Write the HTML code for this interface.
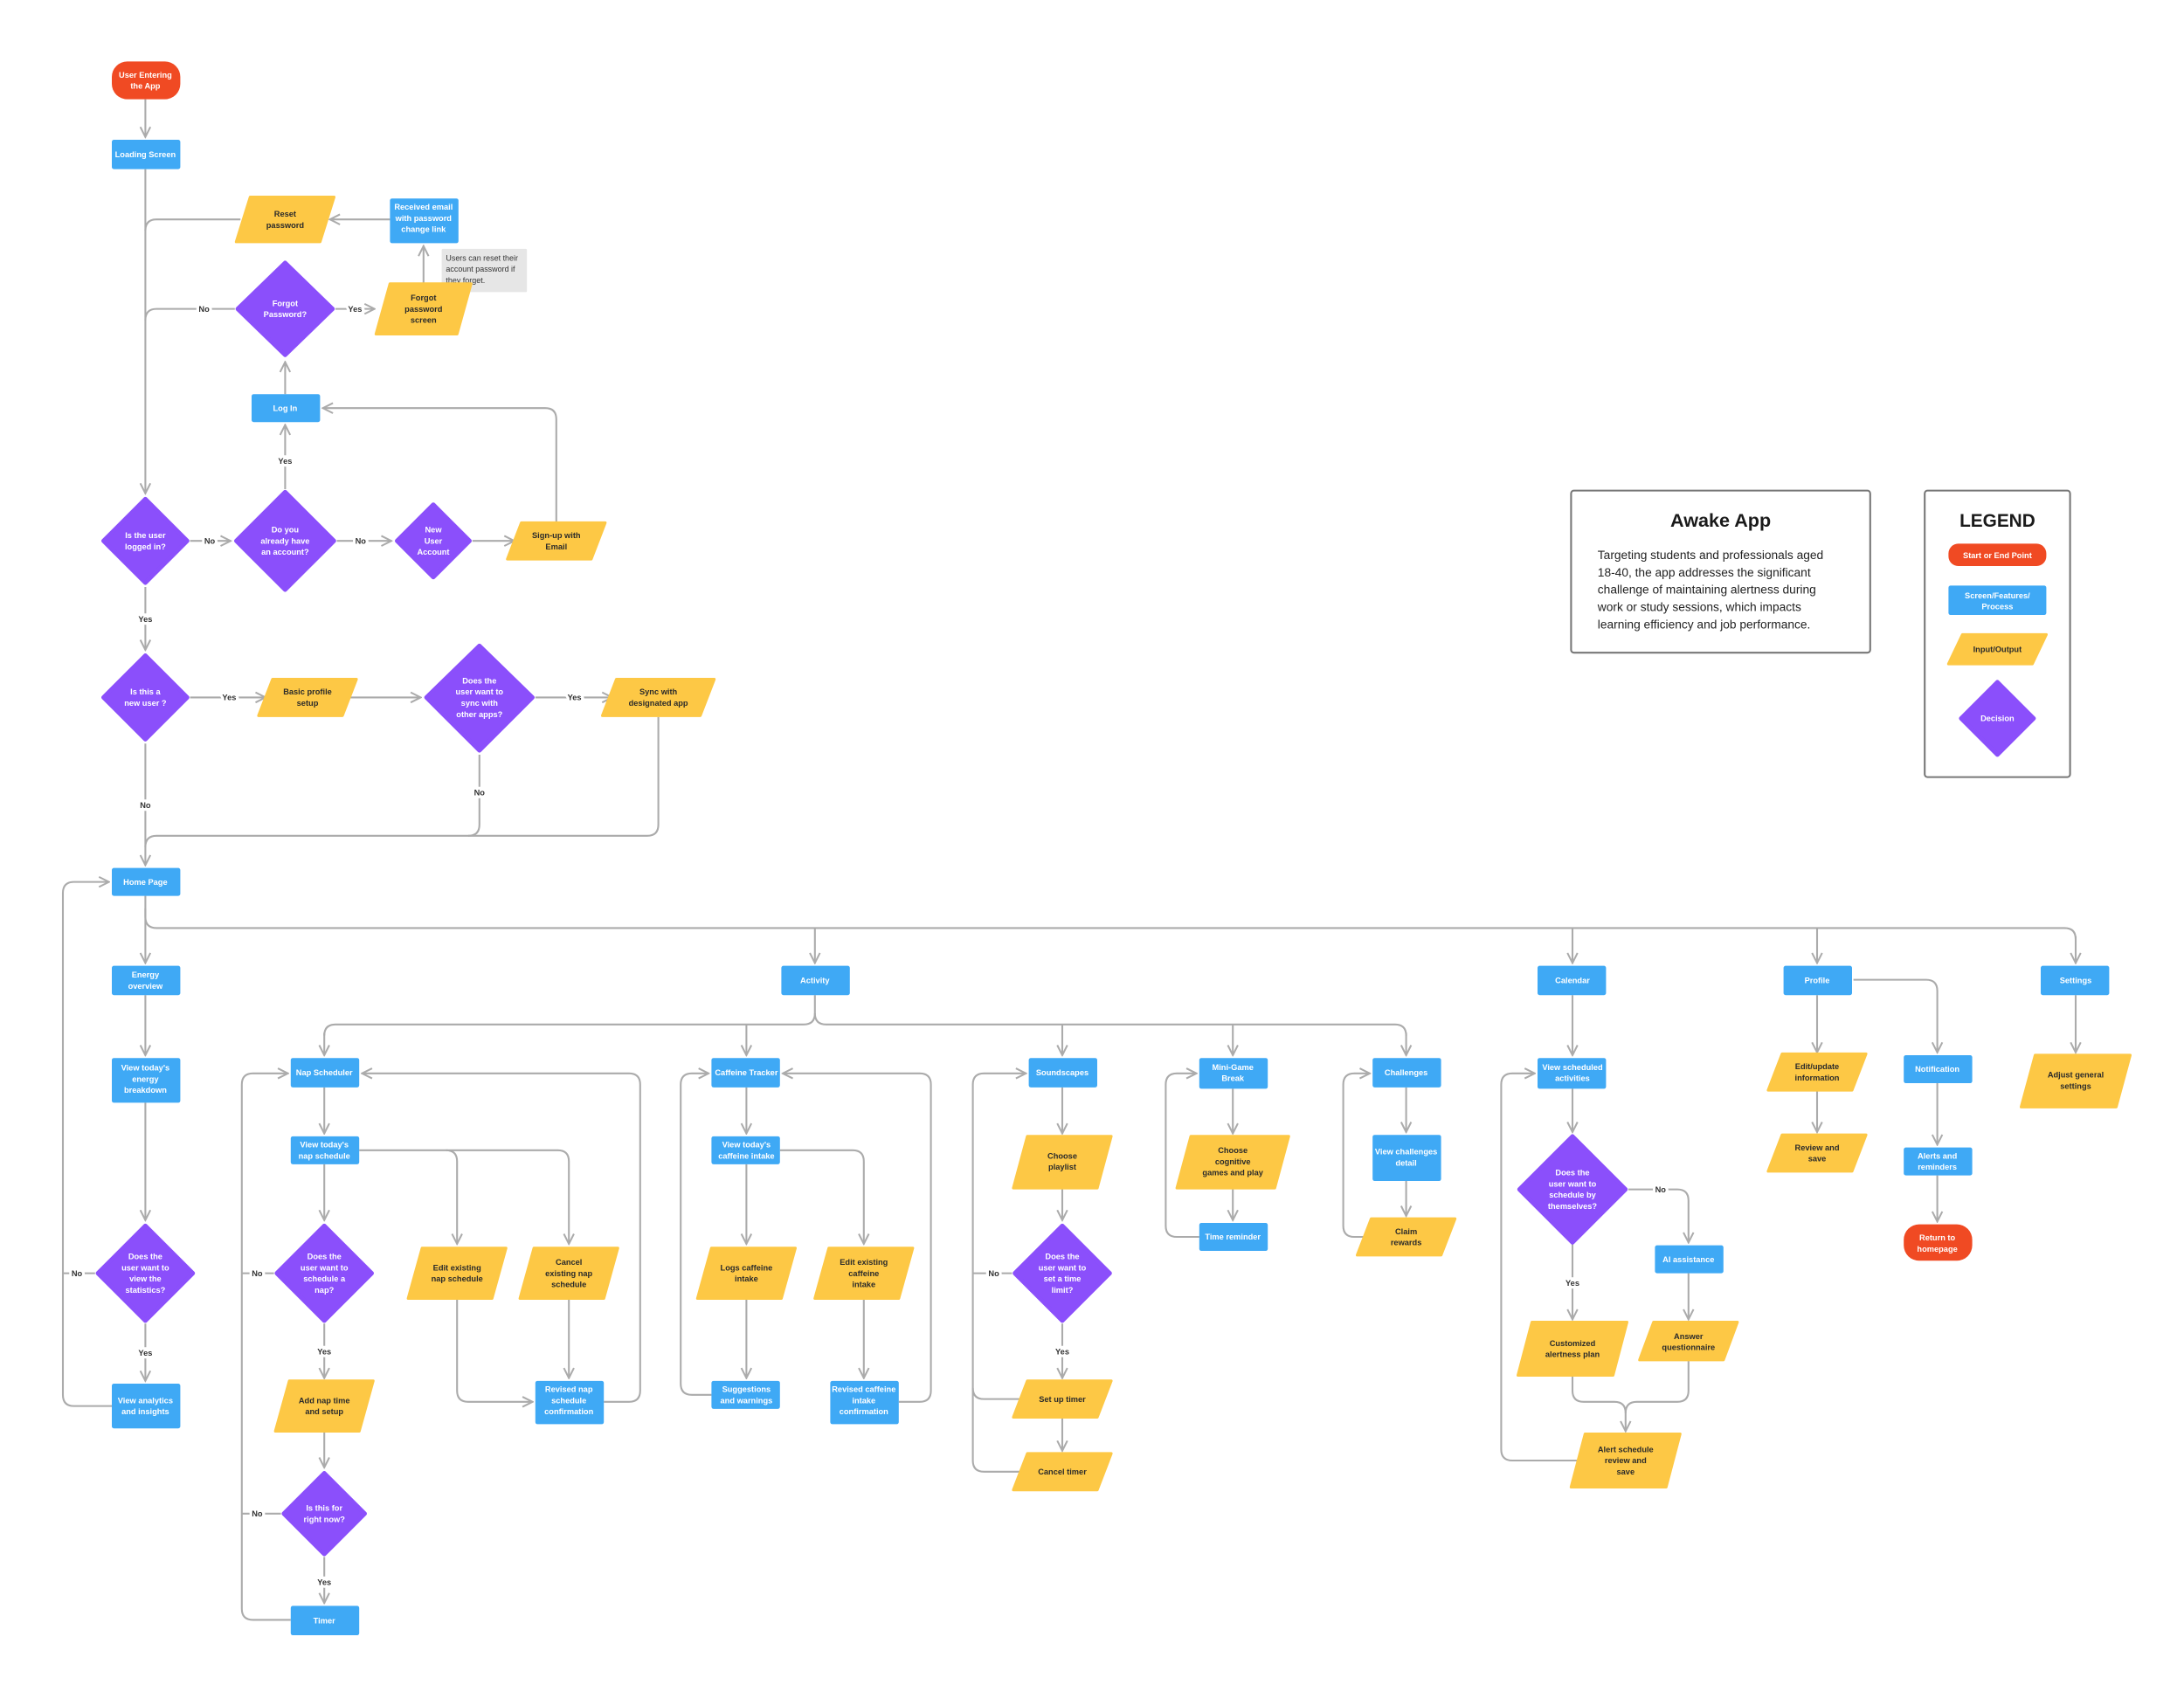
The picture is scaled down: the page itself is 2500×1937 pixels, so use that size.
<!DOCTYPE html>
<html><head><meta charset="utf-8"><style>
html,body{margin:0;padding:0;background:#fff}
svg{display:block}
text{font-family:"Liberation Sans",Arial,sans-serif;font-weight:bold;font-size:5.8px;text-anchor:middle}
.w{fill:#fff}.d{fill:#2a2a2a}
.l{fill:none;stroke:#ABABAB;stroke-width:1.3;stroke-linejoin:round}
.a{marker-end:url(#ar)}
.b{fill:#3FA9F5}.y{fill:#FDC845;stroke:#FDC845;stroke-width:2;stroke-linejoin:round}
.p{fill:#8B4FFB;stroke:#8B4FFB;stroke-width:3;stroke-linejoin:round}
.r{fill:#F04A23}
.lb{fill:#333;paint-order:stroke;stroke:#fff;stroke-width:4px}
</style></head><body>
<svg width="2500" height="1937" viewBox="0 0 1562.5 1210.6" xmlns="http://www.w3.org/2000/svg">
<defs><marker id="ar" viewBox="0 0 10 10" refX="9" refY="5" markerWidth="9" markerHeight="9" markerUnits="userSpaceOnUse" orient="auto"><path d="M1,1 L9,5 L1,9" fill="none" stroke="#ABABAB" stroke-width="1.4"/></marker></defs>

<!-- connectors -->
<g class="l">
<path class="a" d="M104,71 V98"/>
<path class="a" d="M104,121 V353"/>
<path d="M172,157 H112 Q104,157 104,165"/>
<path class="a" d="M279,157 H236"/>
<path class="a" d="M303,203 V176"/>
<path class="a" d="M240,221 H268"/>
<path d="M168,221 H112 Q104,221 104,229"/>
<path class="a" d="M204,282 V259"/>
<path class="a" d="M204,350 V304"/>
<path class="a" d="M136,387 H165"/>
<path class="a" d="M241,387 H280"/>
<path class="a" d="M338,387 H368"/>
<path class="a" d="M398,374 V300 Q398,292 390,292 H231"/>
<path class="a" d="M104,420 V465"/>
<path class="a" d="M136,499 H190"/>
<path class="a" d="M250,499 H301"/>
<path class="a" d="M383,499 H438"/>
<path class="a" d="M104,532 V619"/>
<path d="M343,540 V590 Q343,598 335,598"/>
<path d="M471,513 V590 Q471,598 463,598 H112 Q104,598 104,606"/>
<path class="a" d="M104,641 V689"/>
<path d="M104,650 V656 Q104,664 112,664 H1477 Q1485,664 1485,672"/>
<path class="a" d="M1485,670 V689"/>
<path class="a" d="M583,664 V689"/>
<path class="a" d="M1125,664 V689"/>
<path class="a" d="M1300,664 V689"/>
<path class="a" d="M104,712 V755"/>
<path class="a" d="M104,789 V873"/>
<path class="a" d="M104,947 V988"/>
<path d="M68,911 H45"/>
<path class="a" d="M80,1006 H53 Q45,1006 45,998 V639 Q45,631 53,631 H78"/>
<path d="M583,712 V725 Q583,733 575,733 H240 Q232,733 232,741"/>
<path class="a" d="M232,739 V755"/>
<path d="M583,725 Q583,733 591,733 H998 Q1006,733 1006,741"/>
<path class="a" d="M1006,739 V755"/>
<path class="a" d="M534,733 V755"/>
<path class="a" d="M760,733 V755"/>
<path class="a" d="M882,733 V755"/>
<path class="a" d="M232,778 V811"/>
<path class="a" d="M232,833 V873"/>
<path class="a" d="M257,823 H319 Q327,823 327,831 V890"/>
<path class="a" d="M319,823 H399 Q407,823 407,831 V890"/>
<path class="a" d="M232,947 V986"/>
<path d="M196,911 H173"/>
<path class="a" d="M327,929 V995 Q327,1003 335,1003 H381"/>
<path class="a" d="M407,929 V986"/>
<path class="a" d="M432,1003 H450 Q458,1003 458,995 V776 Q458,768 450,768 H259"/>
<path class="a" d="M232,1024 V1050"/>
<path class="a" d="M232,1114 V1147"/>
<path d="M201,1083 H173"/>
<path class="a" d="M208,1159 H181 Q173,1159 173,1151 V776 Q173,768 181,768 H206"/>
<path class="a" d="M534,778 V811"/>
<path class="a" d="M534,833 V890"/>
<path class="a" d="M558,823 H610 Q618,823 618,831 V890"/>
<path class="a" d="M534,929 V986"/>
<path class="a" d="M618,929 V986"/>
<path class="a" d="M509,998 H495 Q487,998 487,990 V776 Q487,768 495,768 H507"/>
<path class="a" d="M643,1003 H658 Q666,1003 666,995 V776 Q666,768 658,768 H560"/>
<path class="a" d="M760,778 V811"/>
<path class="a" d="M760,850 V873"/>
<path class="a" d="M760,947 V986"/>
<path class="a" d="M760,1014 V1038"/>
<path d="M724,911 H696"/>
<path d="M738,1001 H704 Q696,1001 696,993"/>
<path class="a" d="M738,1053 H704 Q696,1053 696,1045 V776 Q696,768 704,768 H734"/>
<path class="a" d="M882,779 V811"/>
<path class="a" d="M882,850 V873"/>
<path class="a" d="M858,885 H842 Q834,885 834,877 V776 Q834,768 842,768 H856"/>
<path class="a" d="M1006,778 V810"/>
<path class="a" d="M1006,845 V870"/>
<path class="a" d="M978,885 H969 Q961,885 961,877 V776 Q961,768 969,768 H980"/>
<path class="a" d="M1125,712 V755"/>
<path class="a" d="M1125,779 V810"/>
<path class="a" d="M1165,851 H1200 Q1208,851 1208,859 V889"/>
<path class="a" d="M1125,890 V944"/>
<path class="a" d="M1208,911 V944"/>
<path class="a" d="M1125,984 V995 Q1125,1003 1133,1003 H1155 Q1163,1003 1163,1011 V1024"/>
<path d="M1208,973 V995 Q1208,1003 1200,1003 H1171 Q1163,1003 1163,1011"/>
<path class="a" d="M1132,1045 H1082 Q1074,1045 1074,1037 V776 Q1074,768 1082,768 H1098"/>
<path class="a" d="M1300,712 V753"/>
<path class="a" d="M1300,780 V810"/>
<path class="a" d="M1326,701 H1378 Q1386,701 1386,709 V753"/>
<path class="a" d="M1386,775 V819"/>
<path class="a" d="M1386,841 V874"/>
<path class="a" d="M1485,712 V753"/>
</g>

<!-- connector labels -->
<g>
<text class="lb" x="146" y="223">No</text>
<text class="lb" x="254" y="223">Yes</text>
<text class="lb" x="204" y="332">Yes</text>
<text class="lb" x="150" y="389">No</text>
<text class="lb" x="258" y="389">No</text>
<text class="lb" x="104" y="445">Yes</text>
<text class="lb" x="164" y="501">Yes</text>
<text class="lb" x="411" y="501">Yes</text>
<text class="lb" x="104" y="578">No</text>
<text class="lb" x="343" y="569">No</text>
<text class="lb" x="55" y="913">No</text>
<text class="lb" x="104" y="970">Yes</text>
<text class="lb" x="184" y="913">No</text>
<text class="lb" x="232" y="969">Yes</text>
<text class="lb" x="184" y="1085">No</text>
<text class="lb" x="232" y="1134">Yes</text>
<text class="lb" x="711" y="913">No</text>
<text class="lb" x="760" y="969">Yes</text>
<text class="lb" x="1188" y="853">No</text>
<text class="lb" x="1125" y="920">Yes</text>
</g>

<!-- red -->
<rect class="r" x="80" y="44" width="49" height="27" rx="11"/>
<text class="w" x="104" y="55.5">User Entering<tspan x="104" dy="8">the App</tspan></text>
<rect class="r" x="1362" y="876" width="49" height="26" rx="11"/>
<text class="w" x="1386" y="887.5">Return to<tspan x="1386" dy="8">homepage</tspan></text>

<!-- blue boxes -->
<rect class="b" x="80" y="100" width="49" height="21" rx="1.5"/><text class="w" x="104" y="112.5">Loading Screen</text>
<rect class="b" x="279" y="142" width="49" height="32" rx="1.5"/><text class="w" x="303" y="150">Received email<tspan x="303" dy="8">with password</tspan><tspan x="303" dy="8">change link</tspan></text>
<rect class="b" x="180" y="282" width="49" height="20" rx="1.5"/><text class="w" x="204" y="294">Log In</text>
<rect class="b" x="80" y="621" width="49" height="20" rx="1.5"/><text class="w" x="104" y="633">Home Page</text>
<rect class="b" x="80" y="691" width="49" height="21" rx="1.5"/><text class="w" x="104" y="699.5">Energy<tspan x="104" dy="8">overview</tspan></text>
<rect class="b" x="80" y="757" width="49" height="32" rx="1.5"/><text class="w" x="104" y="766">View today's<tspan x="104" dy="8">energy</tspan><tspan x="104" dy="8">breakdown</tspan></text>
<rect class="b" x="80" y="990" width="49" height="32" rx="1.5"/><text class="w" x="104" y="1004">View analytics<tspan x="104" dy="8">and insights</tspan></text>
<rect class="b" x="559" y="691" width="49" height="21" rx="1.5"/><text class="w" x="583" y="703.5">Activity</text>
<rect class="b" x="1100" y="691" width="49" height="21" rx="1.5"/><text class="w" x="1125" y="703.5">Calendar</text>
<rect class="b" x="1276" y="691" width="49" height="21" rx="1.5"/><text class="w" x="1300" y="703.5">Profile</text>
<rect class="b" x="1460" y="691" width="49" height="21" rx="1.5"/><text class="w" x="1485" y="703.5">Settings</text>
<rect class="b" x="208" y="757" width="49" height="21" rx="1.5"/><text class="w" x="232" y="769.5">Nap Scheduler</text>
<rect class="b" x="208" y="813" width="49" height="20" rx="1.5"/><text class="w" x="232" y="821">View today's<tspan x="232" dy="8">nap schedule</tspan></text>
<rect class="b" x="383" y="988" width="49" height="31" rx="1.5"/><text class="w" x="407" y="996">Revised nap<tspan x="407" dy="8">schedule</tspan><tspan x="407" dy="8">confirmation</tspan></text>
<rect class="b" x="208" y="1149" width="49" height="21" rx="1.5"/><text class="w" x="232" y="1161.5">Timer</text>
<rect class="b" x="509" y="757" width="49" height="21" rx="1.5"/><text class="w" x="534" y="769.5">Caffeine Tracker</text>
<rect class="b" x="509" y="813" width="49" height="20" rx="1.5"/><text class="w" x="534" y="821">View today's<tspan x="534" dy="8">caffeine intake</tspan></text>
<rect class="b" x="509" y="988" width="49" height="20" rx="1.5"/><text class="w" x="534" y="996">Suggestions<tspan x="534" dy="8">and warnings</tspan></text>
<rect class="b" x="594" y="988" width="49" height="31" rx="1.5"/><text class="w" x="618" y="996">Revised caffeine<tspan x="618" dy="8">intake</tspan><tspan x="618" dy="8">confirmation</tspan></text>
<rect class="b" x="736" y="757" width="49" height="21" rx="1.5"/><text class="w" x="760" y="769.5">Soundscapes</text>
<rect class="b" x="858" y="757" width="49" height="22" rx="1.5"/><text class="w" x="882" y="765.5">Mini-Game<tspan x="882" dy="8">Break</tspan></text>
<rect class="b" x="858" y="875" width="49" height="20" rx="1.5"/><text class="w" x="882" y="887">Time reminder</text>
<rect class="b" x="982" y="757" width="49" height="21" rx="1.5"/><text class="w" x="1006" y="769.5">Challenges</text>
<rect class="b" x="982" y="812" width="49" height="33" rx="1.5"/><text class="w" x="1006" y="826">View challenges<tspan x="1006" dy="8">detail</tspan></text>
<rect class="b" x="1100" y="757" width="49" height="22" rx="1.5"/><text class="w" x="1125" y="765.5">View scheduled<tspan x="1125" dy="8">activities</tspan></text>
<rect class="b" x="1184" y="891" width="49" height="20" rx="1.5"/><text class="w" x="1208" y="903">AI assistance</text>
<rect class="b" x="1362" y="755" width="49" height="20" rx="1.5"/><text class="w" x="1386" y="767">Notification</text>
<rect class="b" x="1362" y="821" width="49" height="20" rx="1.5"/><text class="w" x="1386" y="829">Alerts and<tspan x="1386" dy="8">reminders</tspan></text>

<!-- note -->
<rect x="316" y="178" width="61" height="31" fill="#E6E6E6" rx="1"/>
<text x="319" y="186.5" style="text-anchor:start;font-weight:normal;font-size:5.6px" fill="#333">Users can reset their<tspan x="319" dy="8">account password if</tspan><tspan x="319" dy="8">they forget.</tspan></text>

<!-- yellow -->
<polygon class="y" points="179,141 239,141 229,173 169,173"/><text class="d" x="204" y="155">Reset<tspan x="204" dy="8">password</tspan></text>
<polygon class="y" points="279,203 337,203 327,239 269,239"/><text class="d" x="303" y="215">Forgot<tspan x="303" dy="8">password</tspan><tspan x="303" dy="8">screen</tspan></text>
<polygon class="y" points="373,374 433,374 423,400 363,400"/><text class="d" x="398" y="385">Sign-up with<tspan x="398" dy="8">Email</tspan></text>
<polygon class="y" points="195,486 255,486 245,512 185,512"/><text class="d" x="220" y="497">Basic profile<tspan x="220" dy="8">setup</tspan></text>
<polygon class="y" points="441,486 511,486 501,512 431,512"/><text class="d" x="471" y="497">Sync with<tspan x="471" dy="8">designated app</tspan></text>
<polygon class="y" points="302,893 362,893 352,929 292,929"/><text class="d" x="327" y="909">Edit existing<tspan x="327" dy="8">nap schedule</tspan></text>
<polygon class="y" points="382,893 442,893 432,929 372,929"/><text class="d" x="407" y="905">Cancel<tspan x="407" dy="8">existing nap</tspan><tspan x="407" dy="8">schedule</tspan></text>
<polygon class="y" points="207,988 267,988 257,1024 197,1024"/><text class="d" x="232" y="1004">Add nap time<tspan x="232" dy="8">and setup</tspan></text>
<polygon class="y" points="509,893 569,893 559,929 499,929"/><text class="d" x="534" y="909">Logs caffeine<tspan x="534" dy="8">intake</tspan></text>
<polygon class="y" points="593,893 653,893 643,929 583,929"/><text class="d" x="618" y="905">Edit existing<tspan x="618" dy="8">caffeine</tspan><tspan x="618" dy="8">intake</tspan></text>
<polygon class="y" points="735,813 795,813 785,850 725,850"/><text class="d" x="760" y="829">Choose<tspan x="760" dy="8">playlist</tspan></text>
<polygon class="y" points="735,988 795,988 785,1014 725,1014"/><text class="d" x="760" y="1003">Set up timer</text>
<polygon class="y" points="735,1040 795,1040 785,1066 725,1066"/><text class="d" x="760" y="1055">Cancel timer</text>
<polygon class="y" points="852,813 922,813 912,850 842,850"/><text class="d" x="882" y="825">Choose<tspan x="882" dy="8">cognitive</tspan><tspan x="882" dy="8">games and play</tspan></text>
<polygon class="y" points="981,872 1041,872 1031,898 971,898"/><text class="d" x="1006" y="883">Claim<tspan x="1006" dy="8">rewards</tspan></text>
<polygon class="y" points="1096,946 1164,946 1154,984 1086,984"/><text class="d" x="1125" y="963">Customized<tspan x="1125" dy="8">alertness plan</tspan></text>
<polygon class="y" points="1183,946 1243,946 1233,973 1173,973"/><text class="d" x="1208" y="958">Answer<tspan x="1208" dy="8">questionnaire</tspan></text>
<polygon class="y" points="1134,1026 1202,1026 1192,1064 1124,1064"/><text class="d" x="1163" y="1039">Alert schedule<tspan x="1163" dy="8">review and</tspan><tspan x="1163" dy="8">save</tspan></text>
<polygon class="y" points="1275,754 1335,754 1325,780 1265,780"/><text class="d" x="1300" y="765">Edit/update<tspan x="1300" dy="8">information</tspan></text>
<polygon class="y" points="1275,812 1335,812 1325,838 1265,838"/><text class="d" x="1300" y="823">Review and<tspan x="1300" dy="8">save</tspan></text>
<polygon class="y" points="1456,755 1524,755 1514,792 1446,792"/><text class="d" x="1485" y="771">Adjust general<tspan x="1485" dy="8">settings</tspan></text>

<!-- diamonds -->
<polygon class="p" points="204,188 238,221 204,254 170,221"/><text class="w" x="204" y="219">Forgot<tspan x="204" dy="8">Password?</tspan></text>
<polygon class="p" points="104,357 134,387 104,417 74,387"/><text class="w" x="104" y="385">Is the user<tspan x="104" dy="8">logged in?</tspan></text>
<polygon class="p" points="204,352 239,387 204,422 169,387"/><text class="w" x="204" y="381">Do you<tspan x="204" dy="8">already have</tspan><tspan x="204" dy="8">an account?</tspan></text>
<polygon class="p" points="310,361 336,387 310,413 284,387"/><text class="w" x="310" y="381">New<tspan x="310" dy="8">User</tspan><tspan x="310" dy="8">Account</tspan></text>
<polygon class="p" points="104,469 134,499 104,529 74,499"/><text class="w" x="104" y="497">Is this a<tspan x="104" dy="8">new user ?</tspan></text>
<polygon class="p" points="343,462 381,499 343,537 305,499"/><text class="w" x="343" y="489">Does the<tspan x="343" dy="8">user want to</tspan><tspan x="343" dy="8">sync with</tspan><tspan x="343" dy="8">other apps?</tspan></text>
<polygon class="p" points="104,877 138,911 104,945 70,911"/><text class="w" x="104" y="901">Does the<tspan x="104" dy="8">user want to</tspan><tspan x="104" dy="8">view the</tspan><tspan x="104" dy="8">statistics?</tspan></text>
<polygon class="p" points="232,877 266,911 232,945 198,911"/><text class="w" x="232" y="901">Does the<tspan x="232" dy="8">user want to</tspan><tspan x="232" dy="8">schedule a</tspan><tspan x="232" dy="8">nap?</tspan></text>
<polygon class="p" points="232,1054 261,1083 232,1112 203,1083"/><text class="w" x="232" y="1081">Is this for<tspan x="232" dy="8">right now?</tspan></text>
<polygon class="p" points="760,877 794,911 760,945 726,911"/><text class="w" x="760" y="901">Does the<tspan x="760" dy="8">user want to</tspan><tspan x="760" dy="8">set a time</tspan><tspan x="760" dy="8">limit?</tspan></text>
<polygon class="p" points="1125,813 1163,851 1125,889 1087,851"/><text class="w" x="1125" y="841">Does the<tspan x="1125" dy="8">user want to</tspan><tspan x="1125" dy="8">schedule by</tspan><tspan x="1125" dy="8">themselves?</tspan></text>

<!-- info box -->
<rect x="1124" y="351" width="214" height="116" rx="2" fill="#fff" stroke="#777" stroke-width="1.3"/>
<text x="1231" y="377" style="font-size:13.5px;fill:#1a1a1a">Awake App</text>
<text x="1143" y="400" style="text-anchor:start;font-weight:normal;font-size:8.6px;fill:#222">Targeting students and professionals aged<tspan x="1143" dy="12.4">18-40, the app addresses the significant</tspan><tspan x="1143" dy="12.4">challenge of maintaining alertness during</tspan><tspan x="1143" dy="12.4">work or study sessions, which impacts</tspan><tspan x="1143" dy="12.4">learning efficiency and job performance.</tspan></text>

<!-- legend -->
<rect x="1377" y="351" width="104" height="205" rx="2" fill="#fff" stroke="#777" stroke-width="1.3"/>
<text x="1429" y="377" style="font-size:13px;fill:#1a1a1a">LEGEND</text>
<rect class="r" x="1394" y="389" width="70" height="16" rx="7"/><text class="w" x="1429" y="399.5">Start or End Point</text>
<rect class="b" x="1394" y="419" width="70" height="21" rx="1.5"/><text class="w" x="1429" y="428">Screen/Features/<tspan x="1429" dy="8">Process</tspan></text>
<polygon class="y" points="1404,454 1464,454 1454,475 1394,475"/><text class="d" x="1429" y="466.5">Input/Output</text>
<polygon class="p" points="1429,488 1455,514 1429,540 1403,514"/><text class="w" x="1429" y="516">Decision</text>
</svg>
</body></html>
